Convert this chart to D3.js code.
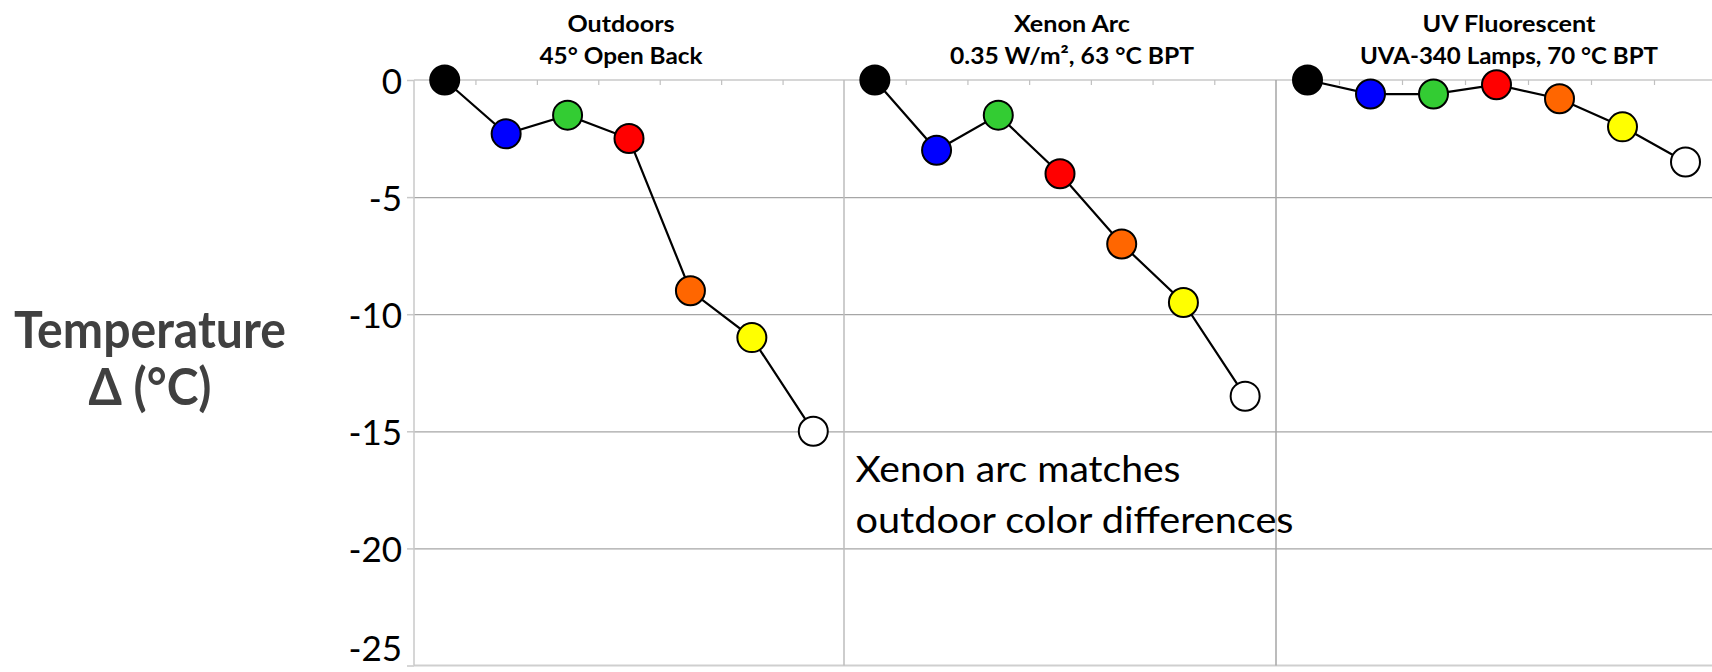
<!DOCTYPE html>
<html>
<head>
<meta charset="utf-8">
<script src="https://cdn.jsdelivr.net/npm/d3@7/dist/d3.min.js"></script>
<style>
  html, body { margin: 0; padding: 0; background: #ffffff; }
  svg { display: block; font-family: Lato, "Open Sans", sans-serif; }
</style>
</head>
<body>
<svg id="chart" width="1712" height="672"></svg>
<script>
// Swatch colours exposed in each chamber, and the temperature change of each swatch (°C)
const swatches = ["Black", "Blue", "Green", "Red", "Orange", "Yellow", "White"];
const swatchFills = ["#000000", "#0000ff", "#33cc33", "#ff0000", "#ff6600", "#ffff00", "#ffffff"];
const outdoors = [0, -2.3, -1.5, -2.5, -9, -11, -15];
const xenonArc = [0, -3, -1.5, -4, -7, -9.5, -13.5];
const uvFluorescent = [0, -0.6, -0.6, -0.2, -0.8, -2, -3.5];
const yTickValues = [0, -5, -10, -15, -20, -25];
const yTickLabels = ["0", "-5", "-10", "-15", "-20", "-25"];
const panelTitles = [
  ["Outdoors", "45° Open Back"],
  ["Xenon Arc", "0.35 W/m², 63 °C BPT"],
  ["UV Fluorescent", "UVA-340 Lamps, 70 °C BPT"]
];
const seriesList = [outdoors, xenonArc, uvFluorescent];

// Layout
const W = 1712, H = 672;
const panelLeft = [414, 844, 1276];
const panelWidth = [430, 432, 441];
const titleOffset = [207, 228, 233];
const titleWidths = [[107, 163], [116, 244], [173, 298]];

const svg = d3.select("#chart");
const y = d3.scaleLinear().domain([-25, 0]).range([665.5, 80]);

// Horizontal gridlines
const grid = svg.append("g")
  .attr("transform", `translate(${panelLeft[0]},0)`)
  .call(d3.axisLeft(y).tickValues(yTickValues.slice(1, -1)).tickSize(-(W - panelLeft[0])).tickFormat(""));
grid.select(".domain").remove();
grid.selectAll(".tick line").attr("stroke", "#a6a6a6").attr("stroke-width", 1.2);

// Zero line and bottom line
svg.append("line").attr("x1", panelLeft[0]).attr("x2", W)
  .attr("y1", y(0)).attr("y2", y(0)).attr("stroke", "#c8c8c8").attr("stroke-width", 1.5);
svg.append("line").attr("x1", panelLeft[0]).attr("x2", W)
  .attr("y1", y(-25)).attr("y2", y(-25)).attr("stroke", "#cfcfcf").attr("stroke-width", 2);

// Vertical panel edges
const edgeColors = ["#c8c8c8", "#bdbdbd", "#a6a6a6"];
panelLeft.forEach((px, i) => {
  svg.append("line").attr("x1", px).attr("x2", px)
    .attr("y1", y(0)).attr("y2", y(-25))
    .attr("stroke", edgeColors[i]).attr("stroke-width", 1.5);
});

// Y axis ticks and labels
const yAxis = svg.append("g")
  .attr("transform", `translate(${panelLeft[0]},0)`)
  .call(d3.axisLeft(y).tickValues(yTickValues).tickSize(7).tickPadding(5)
    .tickFormat((d, i) => yTickLabels[i]));
yAxis.select(".domain").remove();
yAxis.selectAll(".tick line").attr("stroke", "#c8c8c8").attr("stroke-width", 1.5);
yAxis.selectAll(".tick text")
  .attr("font-family", "Lato, 'Open Sans', sans-serif")
  .attr("font-size", 35).attr("fill", "#000")
  // the lowest label sits higher so it stays inside the frame
  .attr("dy", d => d === -25 ? "-0.14em" : "0.38em");

// Panels
seriesList.forEach((vals, p) => {
  const left = panelLeft[p], w = panelWidth[p];
  const x = d3.scaleBand().domain(swatches).range([left, left + w]);
  const xEdge = d3.scaleLinear().domain([0, swatches.length]).range([left, left + w]);

  // Category boundary ticks hanging from the zero line
  const top = svg.append("g")
    .attr("transform", `translate(0,${y(0)})`)
    .call(d3.axisBottom(xEdge).tickValues(d3.range(1, swatches.length)).tickSize(5).tickFormat(""));
  top.select(".domain").remove();
  top.selectAll(".tick line").attr("stroke", "#c0c0c0").attr("stroke-width", 1.2);

  const cx = (d, i) => x(swatches[i]) + x.bandwidth() / 2;

  svg.append("path")
    .datum(vals)
    .attr("fill", "none")
    .attr("stroke", "#000")
    .attr("stroke-width", 2.2)
    .attr("d", d3.line().x(cx).y(d => y(d)));

  svg.append("g").selectAll("circle")
    .data(vals)
    .join("circle")
    .attr("cx", cx)
    .attr("cy", d => y(d))
    .attr("r", 14.5)
    .attr("fill", (d, i) => swatchFills[i])
    .attr("stroke", "#000")
    .attr("stroke-width", 2);

  // Panel title
  const tx = left + titleOffset[p];
  panelTitles[p].forEach((line, k) => {
    svg.append("text")
      .attr("x", tx).attr("y", [31.5, 63.5][k])
      .attr("text-anchor", "middle")
      .attr("font-weight", 700)
      .attr("font-size", 23)
      .attr("fill", "#000")
      .attr("textLength", titleWidths[p][k])
      .attr("lengthAdjust", "spacingAndGlyphs")
      .text(line);
  });
});

// Y axis title
const yTitle = [["Temperature", 348, 272], ["Δ (°C)", 405, 123]];
yTitle.forEach(([t, by, len]) => {
  svg.append("text")
    .attr("x", 150).attr("y", by)
    .attr("text-anchor", "middle")
    .attr("font-weight", 700)
    .attr("font-size", 52)
    .attr("fill", "#404040")
    .attr("textLength", len)
    .attr("lengthAdjust", "spacingAndGlyphs")
    .text(t);
});

// Annotation
const note = [["Xenon arc matches", 482, 325], ["outdoor color differences", 533, 438]];
note.forEach(([t, by, len]) => {
  svg.append("text")
    .attr("x", 855.5).attr("y", by)
    .attr("font-size", 36)
    .attr("fill", "#000")
    .attr("textLength", len)
    .attr("lengthAdjust", "spacingAndGlyphs")
    .text(t);
});
</script>
</body>
</html>
